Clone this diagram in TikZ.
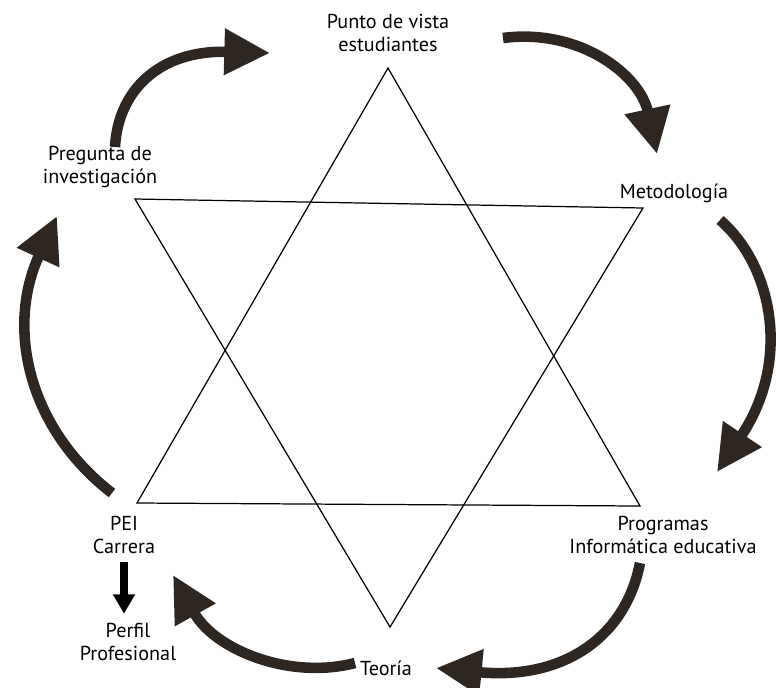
\documentclass[tikz,border=0pt]{standalone}
\usepackage{fontspec}
\setmainfont{PT Sans}
\usetikzlibrary{arrows.meta}
\definecolor{cyclebrown}{HTML}{2E2620}

\begin{document}
\begin{tikzpicture}[x=0.02cm, y=-0.02cm,
    every node/.style={font=\fontsize{11.5}{13.6}\selectfont, align=center, inner sep=0pt},
    star/.style={line width=0.7pt, line join=miter},
    turn/.style={cyclebrown, line width=6pt, -{Triangle[length=26pt, width=25pt]}},
    downarrow/.style={line width=4.5pt, -{Triangle[length=11pt, width=12pt]}}]
    \useasboundingbox (0,0) rectangle (776,687);

    % star
    \coordinate (up1) at (388,68);
    \coordinate (up2) at (137,503);
    \coordinate (up3) at (640,506);
    \coordinate (dn1) at (135,199);
    \coordinate (dn2) at (643,208);
    \coordinate (dn3) at (390,627);
    \draw[star] (up1) -- (up2) -- (up3) -- cycle;
    \draw[star] (dn1) -- (dn2) -- (dn3) -- cycle;

    % labels
    \node (punto) at (388,33) {Punto de vista\\estudiantes};
    \node (pregunta) at (100,167) {Pregunta de\\investigación};
    \node (metodo) at (674,193) {Metodología};
    \node (programas) at (663,535) {Programas\\Informática educativa};
    \node (pei) at (124,535) {PEI\\Carrera};
    \node (perfil) at (128,642) {Perfil\\Profesional};
    \node (teoria) at (386,668) {Teoría};

    % cycle arrows
    \coordinate (s1) at (115,147);  \coordinate (e1) at (270,53);
    \coordinate (s2) at (503,38);   \coordinate (e2) at (657,154);
    \coordinate (s3) at (720,220);  \coordinate (e3) at (717,472);
    \coordinate (s4) at (640,563);  \coordinate (e4) at (436,668);
    \coordinate (s5) at (355,663);  \coordinate (e5) at (173,575);
    \coordinate (s6) at (112,493);  \coordinate (e6) at (57,216);
    \draw[turn] (s1) .. controls (118,90) and (160,50) .. (e1);
    \draw[turn] (s2) .. controls (580,28) and (640,75) .. (e2);
    \draw[turn] (s3) .. controls (772,265) and (792,360) .. (e3);
    \draw[turn] (s4) .. controls (625,640) and (560,680) .. (e4);
    \draw[turn] (s5) .. controls (290,680) and (215,650) .. (e5);
    \draw[turn] (s6) .. controls (30,430) and (5,330) .. (e6);

    \draw[downarrow] ([yshift=-4pt]pei.south) -- ([yshift=5pt]pei.south |- perfil.north);
\end{tikzpicture}
\end{document}
